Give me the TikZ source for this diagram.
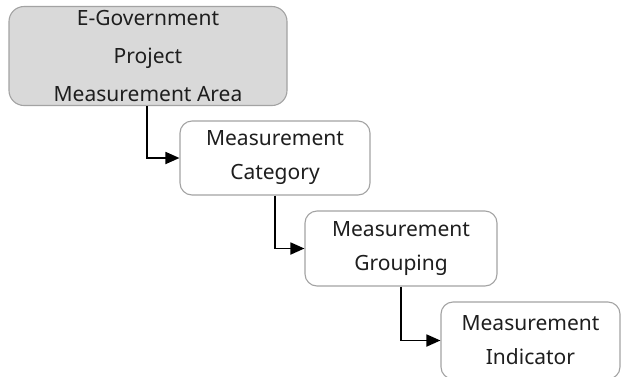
\documentclass[tikz,border=0pt]{standalone}
\usepackage{fontspec}
\setmainfont{Noto Sans}
\usetikzlibrary{arrows.meta}
\definecolor{boxline}{HTML}{A3A3A3}
\definecolor{areafill}{HTML}{D9D9D9}
\definecolor{txt}{HTML}{1E1E1E}
\begin{document}
\begin{tikzpicture}[x=1pt,y=-1pt,
  stage/.style={draw=boxline, line width=1.1pt, rounded corners=12pt, fill=white,
    text=txt, align=center, inner sep=0pt, font=\fontsize{21}{34}\selectfont},
  flow/.style={draw=black, line width=1.8pt,
    -{Triangle[length=14pt,width=12pt]}}]
\useasboundingbox (0,0) rectangle (622,376);
\clip (0,0) rectangle (622,376);
% top-level area
\node[stage, fill=areafill, rounded corners=15pt, minimum width=278pt, minimum height=99pt,
  font=\fontsize{21}{38}\selectfont] (area) at (148,56)
  {E-Government\\Project\\Measurement Area};
% cascading levels
\node[stage, minimum width=190pt, minimum height=74pt] (cat) at (275,158)
  {Measurement\\Category};
\node[stage, minimum width=192pt, minimum height=75pt] (grp) at (401,248.5)
  {Measurement\\Grouping};
\node[stage, minimum width=179pt, minimum height=77pt] (ind) at (530.5,340.5)
  {Measurement\\Indicator};
% connectors
\draw[flow] ([xshift=-1pt]area.south) |- (cat.west);
\draw[flow] (cat.south) |- (grp.west);
\draw[flow] (grp.south) |- (ind.west);
\end{tikzpicture}
\end{document}
